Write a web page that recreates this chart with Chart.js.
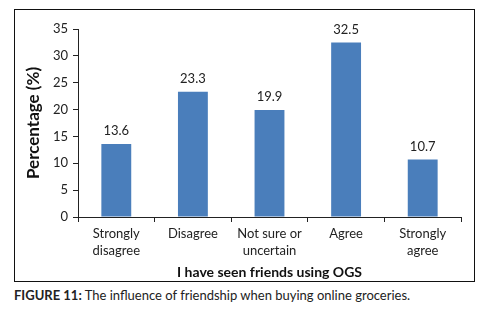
<!DOCTYPE html>
<html>
<head>
<meta charset="utf-8">
<script src="https://cdn.jsdelivr.net/npm/chart.js@4.4.0/dist/chart.umd.min.js"></script>
<style>
  body { margin: 0; background: #fff; font-family: Lato, sans-serif; }
  #frame { position: absolute; left: 14px; top: 9px; width: 459px; height: 271px; border: 1px solid #111; }
  #caption { position: absolute; left: 14px; top: 287px; font-size: 13px; color: #222; white-space: nowrap; }
  #caption b { font-weight: bold; }
</style>
</head>
<body>
<div id="frame"><canvas id="chart" width="459" height="271"></canvas></div>
<div id="caption"><b>FIGURE 11:</b> The influence of friendship when buying online groceries.</div>
<script>
const categories = [['Strongly', 'disagree'], 'Disagree', ['Not sure or', 'uncertain'], 'Agree', ['Strongly', 'agree']];
const percentages = [13.6, 23.3, 19.9, 32.5, 10.7];
const yTicks = [0, 5, 10, 15, 20, 25, 30, 35];

// value labels above bars
const barValues = {
  id: 'barValues',
  afterDatasetsDraw(chart) {
    const ctx = chart.ctx;
    const meta = chart.getDatasetMeta(0);
    ctx.save();
    ctx.font = '13px Lato';
    ctx.fillStyle = '#222';
    ctx.textAlign = 'center';
    ctx.textBaseline = 'middle';
    meta.data.forEach((bar, i) => {
      ctx.fillText(percentages[i].toFixed(1), bar.x, bar.y - 13);
    });
    ctx.restore();
  }
};

new Chart(document.getElementById('chart'), {
  type: 'bar',
  data: {
    labels: categories,
    datasets: [{
      data: percentages,
      backgroundColor: '#4a7ebb',
      categoryPercentage: 0.39,
      barPercentage: 1
    }]
  },
  options: {
    responsive: false,
    animation: false,
    layout: { padding: { top: 19, right: 13, left: 0, bottom: 0 } },
    plugins: { legend: { display: false }, tooltip: { enabled: false } },
    scales: {
      x: {
        grid: { drawOnChartArea: false, drawTicks: true, tickLength: 5, color: '#222', offset: true },
        border: { display: true, color: '#222' },
        ticks: { color: '#222', font: { family: 'Lato', size: 13, lineHeight: 1.25 }, padding: 4, maxRotation: 0 },
        title: { display: true, text: 'I have seen friends using OGS', color: '#111', font: { family: 'Lato', size: 14, weight: 'bold' }, padding: { top: 1, bottom: 0 } },
        afterFit: (s) => { s.height = 64; }
      },
      y: {
        min: 0,
        max: 35,
        afterBuildTicks: (s) => { s.ticks = yTicks.map(v => ({ value: v })); },
        grid: { drawOnChartArea: false, drawTicks: true, tickLength: 5, color: '#222' },
        border: { display: true, color: '#222' },
        ticks: { color: '#222', font: { family: 'Lato', size: 13 }, padding: 5 },
        title: { display: true, text: 'Percentage (%)', color: '#111', font: { family: 'Lato', size: 17, weight: 'bold' }, padding: { top: 8, bottom: 0 } },
        afterFit: (s) => { s.width = 63; }
      }
    }
  },
  plugins: [barValues]
});
</script>
</body>
</html>
